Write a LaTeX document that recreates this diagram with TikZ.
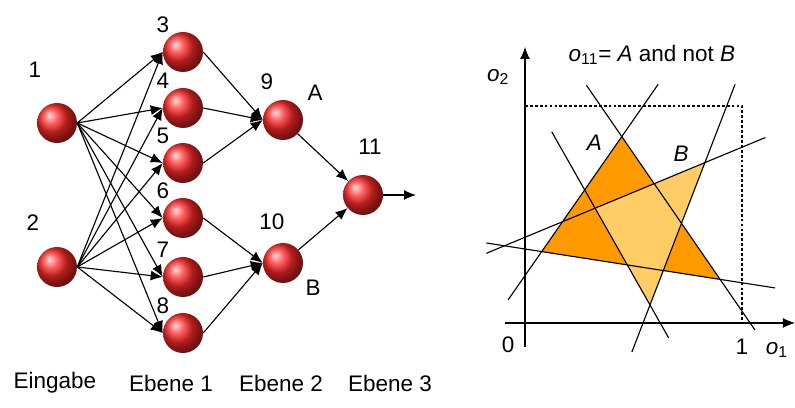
\documentclass[tikz,border=0pt]{standalone}
\usepackage{fontspec}
\setmainfont{Liberation Sans}
\usetikzlibrary{arrows.meta, calc}
\definecolor{darkorange}{RGB}{255, 153, 0}
\definecolor{lightorange}{RGB}{255, 204, 102}
\definecolor{ballred}{RGB}{255, 40, 40}

\tikzset{
  neuron/.style={circle, minimum size=1cm, inner sep=0pt, shading=ball, ball color=ballred},
  conn/.style={-{Latex[length=3mm, width=2.5mm]}, line width=0.8pt},
  lbl/.style={inner sep=0pt}
}

\begin{document}
\begin{tikzpicture}[font=\fontsize{16}{19}\selectfont]

  \useasboundingbox (0, 0) rectangle (19.875, 10.2);

  % network
  \node[neuron] (n1) at (1.425, 7.125) {};
  \node[lbl] (l1) at (0.875, 8.45) {1};
  \node[neuron] (n2) at (1.425, 3.525) {};
  \node[lbl] (l2) at (0.825, 4.625) {2};

  \foreach \i/\y in {3/8.9, 4/7.5, 5/6.125, 6/4.75, 7/3.275, 8/1.875} {
    \node[neuron] (n\i) at (4.575, \y) {};
    \node[lbl] (l\i) at (4.075, \y + 0.675) {\i};
  }

  \node[neuron] (n9) at (7.075, 7.2) {};
  \node[lbl] (l9) at (6.675, 8.15) {9};
  \node[lbl] (lA) at (7.875, 7.875) {A};
  \node[neuron] (n10) at (7.075, 3.625) {};
  \node[lbl] (l10) at (6.8, 4.65) {10};
  \node[lbl] (lB) at (7.825, 3.0) {B};
  \node[neuron] (n11) at (9.075, 5.325) {};
  \node[lbl] (l11) at (9.25, 6.525) {11};
  \coordinate (out) at (10.4, 5.325);

  \foreach \i in {3, ..., 8} {
    \draw[conn] (n1.east) -- (n\i.west);
    \draw[conn] (n2.east) -- (n\i.west);
  }
  \foreach \i in {3, 4, 5} {
    \draw[conn] (n\i.east) -- (n9.west);
  }
  \foreach \i in {6, 7, 8} {
    \draw[conn] (n\i.east) -- (n10.west);
  }
  \draw[conn] (n9) -- (n11);
  \draw[conn] (n10) -- (n11);
  \draw[conn] (n11.east) -- (out);

  \node (e0) at (1.375, 0.625) {Eingabe};
  \node (e1) at (4.275, 0.625) {Ebene 1};
  \node (e2) at (7.025, 0.625) {Ebene 2};
  \node (e3) at (9.75, 0.625) {Ebene 3};

  % decision regions
  \begin{scope}[shift={(13.125, 2.125)}, x=5.425cm, y=5.425cm]
    \coordinate (Al) at (0.077, 0.329);
    \coordinate (At) at (0.446, 0.859);
    \coordinate (Ar) at (0.899, 0.201);
    \coordinate (Bl) at (0.323, 0.529);
    \coordinate (Bt) at (0.829, 0.739);
    \coordinate (Bb) at (0.576, 0.083);

    \fill[darkorange] (Al) -- (At) -- (Ar) -- cycle;
    \fill[lightorange] (Bl) -- (Bt) -- (Bb) -- cycle;

    \draw[line width=0.8pt] ($(Al)!-0.42!(At)$) -- ($(Al)!1.455!(At)$);
    \draw[line width=0.8pt] ($(At)!-0.36!(Ar)$) -- ($(At)!1.355!(Ar)$);
    \draw[line width=0.8pt] ($(Al)!-0.31!(Ar)$) -- ($(Al)!1.308!(Ar)$);
    \draw[line width=0.8pt] ($(Bl)!-0.99!(Bt)$) -- ($(Bl)!1.55!(Bt)$);
    \draw[line width=0.8pt] ($(Bl)!-0.79!(Bb)$) -- ($(Bl)!1.34!(Bb)$);
    \draw[line width=0.8pt] ($(Bb)!-0.33!(Bt)$) -- ($(Bb)!1.55!(Bt)$);

    \draw[line width=0.8pt, dash pattern=on 2pt off 1.5pt] (0, 1) -- (1, 1) -- (1, 0);

    \draw[conn] (-0.092, 0) -- (1.244, 0);
    \draw[conn] (0, -0.11) -- (0, 1.272);

    \node (t0) at (-0.078, -0.101) {0};
    \node (t1) at (1.0, -0.11) {1};
    \node (o1) at (1.161, -0.124) {\textit{o}\textsubscript{1}};
    \node (o2) at (-0.124, 1.134) {\textit{o}\textsubscript{2}};
    \node (title) at (0.585, 1.235) {\textit{o}\textsubscript{11}= \textit{A} and not \textit{B}};
    \node (rA) at (0.32, 0.83) {\textit{A}};
    \node (rB) at (0.72, 0.78) {\textit{B}};
  \end{scope}

\end{tikzpicture}
\end{document}
